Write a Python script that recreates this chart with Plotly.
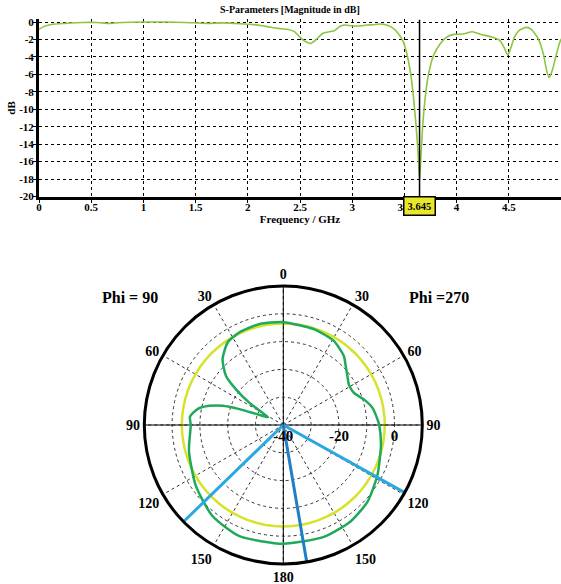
import plotly.graph_objects as go

# ---------------- data: S11 magnitude ----------------
freq_ghz = [0, 0.05, 0.13, 0.25, 0.42, 0.55, 0.68, 0.8, 1.0, 1.22, 1.4, 1.61, 1.75, 1.87,
            2.0, 2.06, 2.15, 2.22, 2.29, 2.39, 2.45, 2.51, 2.56, 2.6, 2.65, 2.715, 2.78,
            2.829, 2.877, 2.925, 2.99, 3.07, 3.136, 3.2, 3.264, 3.33, 3.393, 3.441, 3.49,
            3.523, 3.555, 3.587, 3.613, 3.632, 3.645, 3.658, 3.674, 3.7, 3.732, 3.78,
            3.845, 3.91, 3.974, 4.055, 4.152, 4.232, 4.329, 4.41, 4.452, 4.49, 4.523,
            4.555, 4.603, 4.668, 4.716, 4.78, 4.83, 4.862, 4.888, 4.917, 4.958, 4.99, 5.016]
s11_db = [-0.85, -0.5, -0.25, -0.15, -0.05, -0.05, -0.15, -0.05, 0.0, 0.0, -0.05, -0.15, -0.1, -0.15,
          -0.25, -0.3, -0.45, -0.6, -0.73, -0.85, -1.12, -1.88, -2.3, -2.46, -2.08, -1.31, -1.12,
          -1.0, -0.54, -0.35, -0.42, -0.46, -0.35, -0.31, -0.23, -0.35, -0.73, -1.31, -2.27,
          -3.61, -5.54, -8.61, -12.07, -15.15, -18.2, -15.5, -12.07, -8.61, -5.92, -3.8,
          -2.46, -1.69, -1.42, -1.38, -1.12, -1.42, -1.69, -2.08, -2.84, -3.8, -2.84,
          -1.69, -0.92, -0.61, -0.85, -1.88, -3.61, -5.54, -6.38, -5.54, -3.61, -2.27, -1.69]
marker_freq = 3.645
x_ticks = [0, 0.5, 1, 1.5, 2, 2.5, 3, 3.5, 4, 4.5, 5]
y_ticks = [0, -2, -4, -6, -8, -10, -12, -14, -16, -18, -20]

# ---------------- data: radiation pattern ----------------
pattern_theta = [0, 17.5, 31, 41.3, 46.6, 52.7, 58.4, 65.6, 72.6, 79.3, 86.9, 90, 101.1, 117.7,
                 132.3, 145.3, 160.1, 180, 201.5, 217.9, 235.3, 254.6, 270, 275.1, 280.5,
                 284.5, 287.6, 289.9, 292.4, 297, 303.1, 306.9, 310.5, 317.3, 326, 334.7,
                 346.9, 360]
pattern_r = [-3, -3.8, -4.7, -7, -9.1, -11, -12.3, -12.1, -9.5, -7.3, -6.0, -5.5, -4.2, -1.7,
             1, 2.3, 2.8, 2.7, 3, 1.5, -1.7, -4.8, -6.7, -6.3, -8.6,
             -12.5, -17.1, -23.2, -29.5, -33.9, -25.6, -18.8, -12.9, -7.8, -4.2, -3.1,
             -2.7, -3]
ref_level_db = -3.5
ref_theta = list(range(0, 361, 5))
beam_light_theta = [225.9, 119.1]
beam_dark_theta = [170.3]
r_min, r_max = -40, 10
angle_vals = [0, 30, 60, 90, 120, 150, 180, 210, 240, 270, 300, 330]
angle_text = ["0", "30", "60", "90", "120", "150", "180", "150", "120", "90", "60", "30"]
radial_vals = [-40, -30, -20, -10, 0]
radial_text = ["-40", "", "-20", "", "0"]
axis_theta = [0, 90, 180, 270]

W, H = 561, 584
FONT = "Liberation Serif"

fig = go.Figure()

# top chart
fig.add_trace(go.Scatter(x=freq_ghz, y=s11_db, mode="lines",
                         line=dict(color="#8cc63f", width=1.6, shape="spline", smoothing=0.5),
                         xaxis="x", yaxis="y", showlegend=False, hoverinfo="skip"))
fig.add_trace(go.Scatter(x=[marker_freq, marker_freq], y=[-20, 0.3], mode="lines",
                         line=dict(color="black", width=1.5),
                         xaxis="x", yaxis="y", showlegend=False, hoverinfo="skip"))

# polar chart
fig.add_trace(go.Scatterpolar(theta=ref_theta, r=[ref_level_db] * len(ref_theta), mode="lines",
                              line=dict(color="#d5e32a", width=2.5), showlegend=False,
                              subplot="polar"))
ax_t, ax_r = [], []
for t in axis_theta:
    ax_t += [t, t, None]
    ax_r += [r_min, r_max, None]
fig.add_trace(go.Scatterpolar(theta=ax_t, r=ax_r, mode="lines",
                              line=dict(color="black", width=1), showlegend=False,
                              connectgaps=False, subplot="polar"))
fig.add_trace(go.Scatterpolar(theta=pattern_theta, r=pattern_r, mode="lines",
                              line=dict(color="#1fa95a", width=2.5, shape="spline", smoothing=0.6),
                              showlegend=False, subplot="polar"))
bl_t, bl_r = [], []
for t in beam_light_theta:
    bl_t += [t, t, None]
    bl_r += [r_min, r_max, None]
fig.add_trace(go.Scatterpolar(theta=bl_t, r=bl_r, mode="lines",
                              line=dict(color="#2ba8e0", width=3), showlegend=False,
                              connectgaps=False, subplot="polar"))
bd_t, bd_r = [], []
for t in beam_dark_theta:
    bd_t += [t, t, None]
    bd_r += [r_min, r_max, None]
fig.add_trace(go.Scatterpolar(theta=bd_t, r=bd_r, mode="lines",
                              line=dict(color="#1f7fc6", width=3), showlegend=False,
                              connectgaps=False, subplot="polar"))

x0 = 39 / W
y_top = 1 - 19.4 / H
y_bot = 1 - 196.5 / H
cx, cy, R = 283.3, 425.0, 139.0

fig.update_layout(
    width=W, height=H,
    margin=dict(l=0, r=0, t=0, b=0, autoexpand=False),
    paper_bgcolor="white", plot_bgcolor="white",
    font=dict(family=FONT, color="black"),
    xaxis=dict(domain=[x0, 1], range=[0, 5.0], tickvals=x_ticks,
               ticktext=[f"{v:g}" for v in x_ticks], automargin=False,
               tickfont=dict(size=11, family=FONT, weight="bold"), ticklabelstandoff=-5,
               showgrid=True, gridcolor="black", griddash="dot", gridwidth=1,
               showline=True, linecolor="black", linewidth=3,
               ticks="outside", ticklen=3, tickcolor="black",
               zeroline=False, anchor="y",
               title=dict(text="Frequency / GHz", font=dict(size=11, family=FONT, weight="bold"),
                          standoff=0)),
    yaxis=dict(domain=[y_bot, y_top], range=[-20, 0.3], tickvals=y_ticks,
               ticktext=[f"{v:g}" for v in y_ticks], automargin=False,
               tickfont=dict(size=11, family=FONT, weight="bold"), ticklabelstandoff=-3,
               showgrid=True, gridcolor="black", griddash="dot", gridwidth=1,
               showline=True, linecolor="black", linewidth=3,
               ticks="outside", ticklen=3, tickcolor="black",
               zeroline=False, anchor="x",
               title=dict(text="dB", font=dict(size=11, family=FONT, weight="bold"), standoff=2)),
    polar=dict(
        domain=dict(x=[(cx - R) / W, (cx + R) / W], y=[1 - (cy + R) / H, 1 - (cy - R) / H]),
        bgcolor="white",
        angularaxis=dict(rotation=90, direction="clockwise", tickvals=angle_vals,
                         ticktext=angle_text, showline=True, linecolor="black", linewidth=3,
                         showgrid=True, gridcolor="#333333", griddash="dot", gridwidth=1,
                         ticks="", tickfont=dict(size=14, family=FONT, weight="bold")),
        radialaxis=dict(range=[r_min, r_max], tickvals=radial_vals, ticktext=radial_text,
                        angle=0, side="clockwise", showline=False, ticks="",
                        showgrid=True, gridcolor="#333333", griddash="dot", gridwidth=1,
                        tickfont=dict(size=15, family=FONT, weight="bold")),
    ),
    annotations=[
        dict(text="S-Parameters [Magnitude in dB]", x=290 / W, y=1 - 10 / H, xref="paper",
             yref="paper", xanchor="center", yanchor="middle", showarrow=False,
             font=dict(size=10, family=FONT, weight="bold")),
        dict(text="3.645", x=marker_freq, y=1 - 205.5 / H, xref="x", yref="paper",
             xanchor="center", yanchor="middle",
             showarrow=False, bgcolor="#e8e82a", bordercolor="black", borderwidth=1.5,
             borderpad=3, font=dict(size=10.5, family=FONT, weight="bold")),
        dict(text="Phi = 90", x=130 / W, y=1 - 297 / H, xref="paper", yref="paper",
             xanchor="center", yanchor="middle", showarrow=False,
             font=dict(size=16, family=FONT, weight="bold")),
        dict(text="Phi =270", x=439 / W, y=1 - 297 / H, xref="paper", yref="paper",
             xanchor="center", yanchor="middle", showarrow=False,
             font=dict(size=16, family=FONT, weight="bold")),
    ],
)

fig.write_html("out.html", config={"displayModeBar": False},
               post_script="document.body.style.margin='0';document.body.style.overflow='hidden';")
